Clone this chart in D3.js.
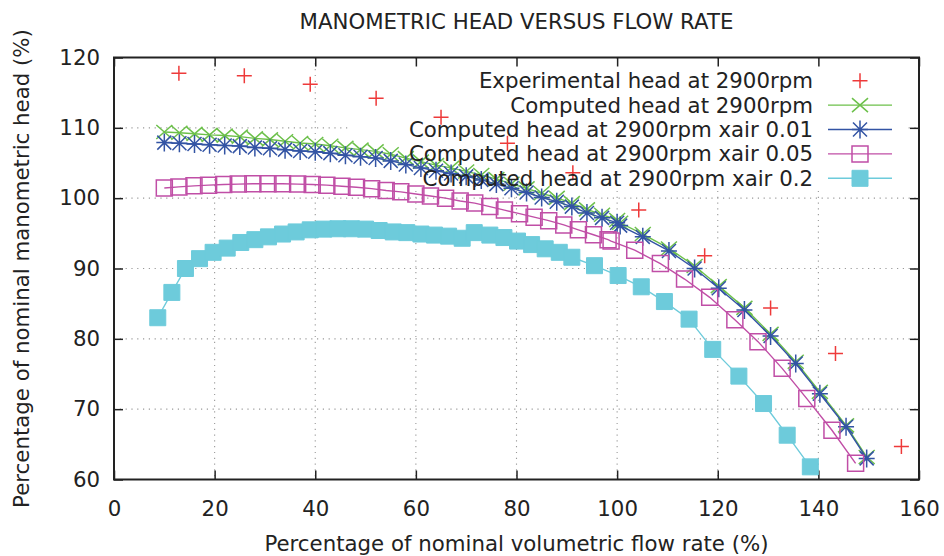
<!DOCTYPE html>
<html>
<head>
<meta charset="utf-8">
<script src="https://cdn.jsdelivr.net/npm/d3@7"></script>
<style>
  body { margin: 0; background: #fff; }
  svg { display: block; font-family: "DejaVu Sans", sans-serif; }
</style>
</head>
<body>
<div class="root"></div>
<script>
const width = 944;
const height = 556;
const margin = { left: 114, right: 25, top: 57.5, bottom: 76.5 };
const fontSize = 21.3;

// tick values
const xTicks = [0, 20, 40, 60, 80, 100, 120, 140, 160];
const yTicks = [60, 70, 80, 90, 100, 110, 120];

// experimental head
const expFlow = [12.9, 25.9, 39.0, 52.1, 65.0, 78.2, 91.2, 104.3, 117.4, 130.5, 143.4, 156.5];
const expHead = [117.75, 117.4, 116.2, 114.2, 111.5, 107.8, 103.6, 98.3, 91.8, 84.4, 77.9, 64.7];

// computed (no air) and xair 0.01 share the flow points
const compFlow = [10, 13, 16, 19, 22, 25, 28, 31, 34, 37, 40, 43, 46, 49, 52, 55, 58, 61, 64, 67,
  70, 73, 76, 79, 82, 85, 88, 91, 94, 97, 100,
  100.6, 105.1, 110.3, 115.4, 120.2, 125.3, 130.5, 135.5, 140.3, 145.5, 149.6];
const compHead = [109.4, 109.3, 109.15, 109.0, 108.9, 108.75, 108.5, 108.35, 108.1, 107.85, 107.7,
  107.45, 107.15, 106.9, 106.65, 106.25, 105.7, 105.2, 104.7, 104.3, 103.8, 103.3, 102.7, 102.05,
  101.4, 100.7, 100.05, 99.3, 98.4, 97.65, 96.9,
  96.5, 94.9, 92.85, 90.35, 87.5, 84.4, 80.7, 76.75, 72.45, 67.7, 63.2];
const air01Head = [107.9, 107.8, 107.7, 107.6, 107.5, 107.4, 107.2, 107.1, 106.9, 106.7, 106.6,
  106.4, 106.1, 105.9, 105.7, 105.3, 104.8, 104.3, 103.9, 103.5, 103.1, 102.6, 102.0, 101.4,
  100.8, 100.1, 99.5, 98.8, 97.9, 97.2, 96.5,
  96.1, 94.5, 92.5, 90.0, 87.2, 84.1, 80.4, 76.5, 72.2, 67.5, 63.0];

// xair 0.05
const air05Flow = [10.0, 12.9, 15.9, 18.8, 21.8, 24.7, 27.6, 30.6, 33.5, 36.5, 39.4, 42.3, 45.3,
  48.2, 51.2, 54.1, 57.0, 60.0, 62.9, 65.9, 68.8, 71.7, 74.7, 77.6, 80.6, 83.5, 86.4, 89.4, 92.3,
  95.3, 98.2,
  98.8, 103.5, 108.6, 113.4, 118.4, 123.4, 128.0, 132.8, 137.7, 142.7, 147.4];
const air05Head = [101.45, 101.6, 101.75, 101.85, 101.95, 102.0, 102.05, 102.05, 102.05, 102.0,
  101.95, 101.85, 101.7, 101.55, 101.35, 101.1, 100.9, 100.6, 100.3, 100.0, 99.6, 99.3, 98.8,
  98.3, 97.8, 97.3, 96.8, 96.2, 95.5, 94.8, 94.1,
  93.9, 92.6, 90.7, 88.5, 85.9, 82.7, 79.6, 75.8, 71.5, 67.0, 62.3];

// xair 0.2
const air2Flow = [8.7, 11.5, 14.2, 17.0, 19.7, 22.5, 25.2, 28.0, 30.7, 33.5, 36.2, 39.0, 41.7,
  44.5, 47.2, 50.0, 52.7, 55.5, 58.2, 61.0, 63.7, 66.5, 69.2, 71.6, 74.7, 77.5, 80.2, 83.0, 85.7,
  88.5, 91.0,
  95.5, 100.2, 104.8, 109.4, 114.3, 119.0, 124.2, 129.1, 133.8, 138.4];
const air2Head = [83.0, 86.6, 90.0, 91.4, 92.3, 92.9, 93.7, 94.1, 94.5, 94.9, 95.2, 95.5, 95.6,
  95.65, 95.65, 95.6, 95.4, 95.2, 95.1, 94.9, 94.75, 94.6, 94.3, 95.1, 94.75, 94.4, 93.9, 93.4,
  92.8, 92.3, 91.6,
  90.4, 89.0, 87.4, 85.3, 82.8, 78.5, 74.7, 70.8, 66.3, 61.8];

const series = [
  { name: "Experimental head at 2900rpm", color: "#ee3a3a", sym: "plus", line: false, x: expFlow, y: expHead },
  { name: "Computed head at 2900rpm", color: "#6cc04a", sym: "cross", line: true, x: compFlow, y: compHead },
  { name: "Computed head at 2900rpm xair 0.01", color: "#3354a4", sym: "star", line: true, x: compFlow, y: air01Head },
  { name: "Computed head at 2900rpm xair 0.05", color: "#c04ea6", sym: "square", line: true, x: air05Flow, y: air05Head },
  { name: "Computed head at 2900rpm xair 0.2", color: "#6dcbdb", sym: "fsquare", line: true, x: air2Flow, y: air2Head },
];

const svg = d3.select(".root").append("svg")
  .attr("width", width)
  .attr("height", height);

const x = d3.scaleLinear().domain([0, 160]).range([margin.left, width - margin.right]);
const y = d3.scaleLinear().domain([60, 120]).range([height - margin.bottom, margin.top]);

const plotLeft = x.range()[0], plotRight = x.range()[1];
const plotTop = y.range()[1], plotBottom = y.range()[0];

// dotted grid
const grid = svg.append("g").attr("stroke", "#999").attr("stroke-width", 1.1).attr("stroke-dasharray", "1.2,4.6");
grid.selectAll(".gx").data(xTicks.slice(1, -1)).join("line")
  .attr("x1", d => x(d)).attr("x2", d => x(d)).attr("y1", plotTop).attr("y2", plotBottom);
grid.selectAll(".gy").data(yTicks.slice(1, -1)).join("line")
  .attr("x1", plotLeft).attr("x2", plotRight).attr("y1", d => y(d)).attr("y2", d => y(d));

// key background hides grid
svg.append("rect").attr("x", 350).attr("y", 59).attr("width", 556).attr("height", 131).attr("fill", "#fff");

// axes with inward ticks
function styleAxis(g) {
  g.select(".domain").remove();
  g.selectAll(".tick line").attr("stroke", "#222").attr("stroke-width", 1.5);
  g.selectAll(".tick text").attr("fill", "#222").attr("font-size", fontSize).attr("font-family", "DejaVu Sans");
}
svg.append("g").attr("transform", `translate(0,${plotBottom})`)
  .call(d3.axisBottom(x).tickValues(xTicks).tickSizeInner(-9).tickSizeOuter(0).tickPadding(21))
  .call(styleAxis);
svg.append("g").attr("transform", `translate(0,${plotTop})`)
  .call(d3.axisTop(x).tickValues(xTicks).tickSizeInner(-9).tickSizeOuter(0).tickFormat(""))
  .call(styleAxis);
svg.append("g").attr("transform", `translate(${plotLeft},0)`)
  .call(d3.axisLeft(y).tickValues(yTicks).tickSizeInner(-9).tickSizeOuter(0).tickPadding(14))
  .call(styleAxis);
svg.append("g").attr("transform", `translate(${plotRight},0)`)
  .call(d3.axisRight(y).tickValues(yTicks).tickSizeInner(-9).tickSizeOuter(0).tickFormat(""))
  .call(styleAxis);

// frame
svg.append("rect").attr("x", plotLeft).attr("y", plotTop)
  .attr("width", plotRight - plotLeft).attr("height", plotBottom - plotTop)
  .attr("fill", "none").attr("stroke", "#222").attr("stroke-width", 2);

function symbolPath(sym) {
  const p = d3.path();
  if (sym === "plus") {
    p.moveTo(-7.5, 0); p.lineTo(7.5, 0); p.moveTo(0, -7.5); p.lineTo(0, 7.5);
  } else if (sym === "cross") {
    p.moveTo(-8, -7); p.lineTo(8, 7); p.moveTo(-8, 7); p.lineTo(8, -7);
  } else if (sym === "star") {
    p.moveTo(-8, 0); p.lineTo(8, 0); p.moveTo(0, -9); p.lineTo(0, 9);
    p.moveTo(-7, -7); p.lineTo(7, 7); p.moveTo(-7, 7); p.lineTo(7, -7);
  } else {
    p.rect(-8, -8, 16, 16);
  }
  return p.toString();
}

const lineGen = d3.line().x(d => x(d[0])).y(d => y(d[1]));

series.forEach(s => {
  const pts = s.x.map((v, i) => [v, s.y[i]]);
  const g = svg.append("g");
  if (s.line) {
    g.append("path").attr("d", lineGen(pts)).attr("fill", "none")
      .attr("stroke", s.color).attr("stroke-width", 1.4);
  }
  g.selectAll("path.pt").data(pts).join("path")
    .attr("class", "pt")
    .attr("transform", d => `translate(${x(d[0])},${y(d[1])})`)
    .attr("d", symbolPath(s.sym))
    .attr("fill", s.sym === "fsquare" ? s.color : "none")
    .attr("stroke", s.color)
    .attr("stroke-width", s.sym === "fsquare" ? 1 : 1.5);
});

// key
const key = svg.append("g").attr("font-size", fontSize).attr("fill", "#222");
series.forEach((s, i) => {
  const ky = 80.7 + i * 24.4;
  key.append("text").attr("x", 813).attr("y", ky).attr("dy", "0.35em")
    .attr("text-anchor", "end").text(s.name);
  if (s.line) {
    key.append("line").attr("x1", 828).attr("x2", 892).attr("y1", ky).attr("y2", ky)
      .attr("stroke", s.color).attr("stroke-width", 1.4);
  }
  key.append("path").attr("transform", `translate(860,${ky})`).attr("d", symbolPath(s.sym))
    .attr("fill", s.sym === "fsquare" ? s.color : "none")
    .attr("stroke", s.color).attr("stroke-width", s.sym === "fsquare" ? 1 : 1.5);
});

// titles
svg.append("text").attr("x", (plotLeft + plotRight) / 2).attr("y", 29).attr("text-anchor", "middle")
  .attr("font-size", fontSize).attr("fill", "#222").text("MANOMETRIC HEAD VERSUS FLOW RATE");
svg.append("text").attr("x", (plotLeft + plotRight) / 2).attr("y", 551).attr("text-anchor", "middle")
  .attr("font-size", fontSize).attr("fill", "#222").text("Percentage of nominal volumetric flow rate (%)");
svg.append("text").attr("transform", `translate(29,${(plotTop + plotBottom) / 2}) rotate(-90)`)
  .attr("text-anchor", "middle").attr("font-size", fontSize).attr("fill", "#222")
  .text("Percentage of nominal manometric head (%)");
</script>
</body>
</html>
